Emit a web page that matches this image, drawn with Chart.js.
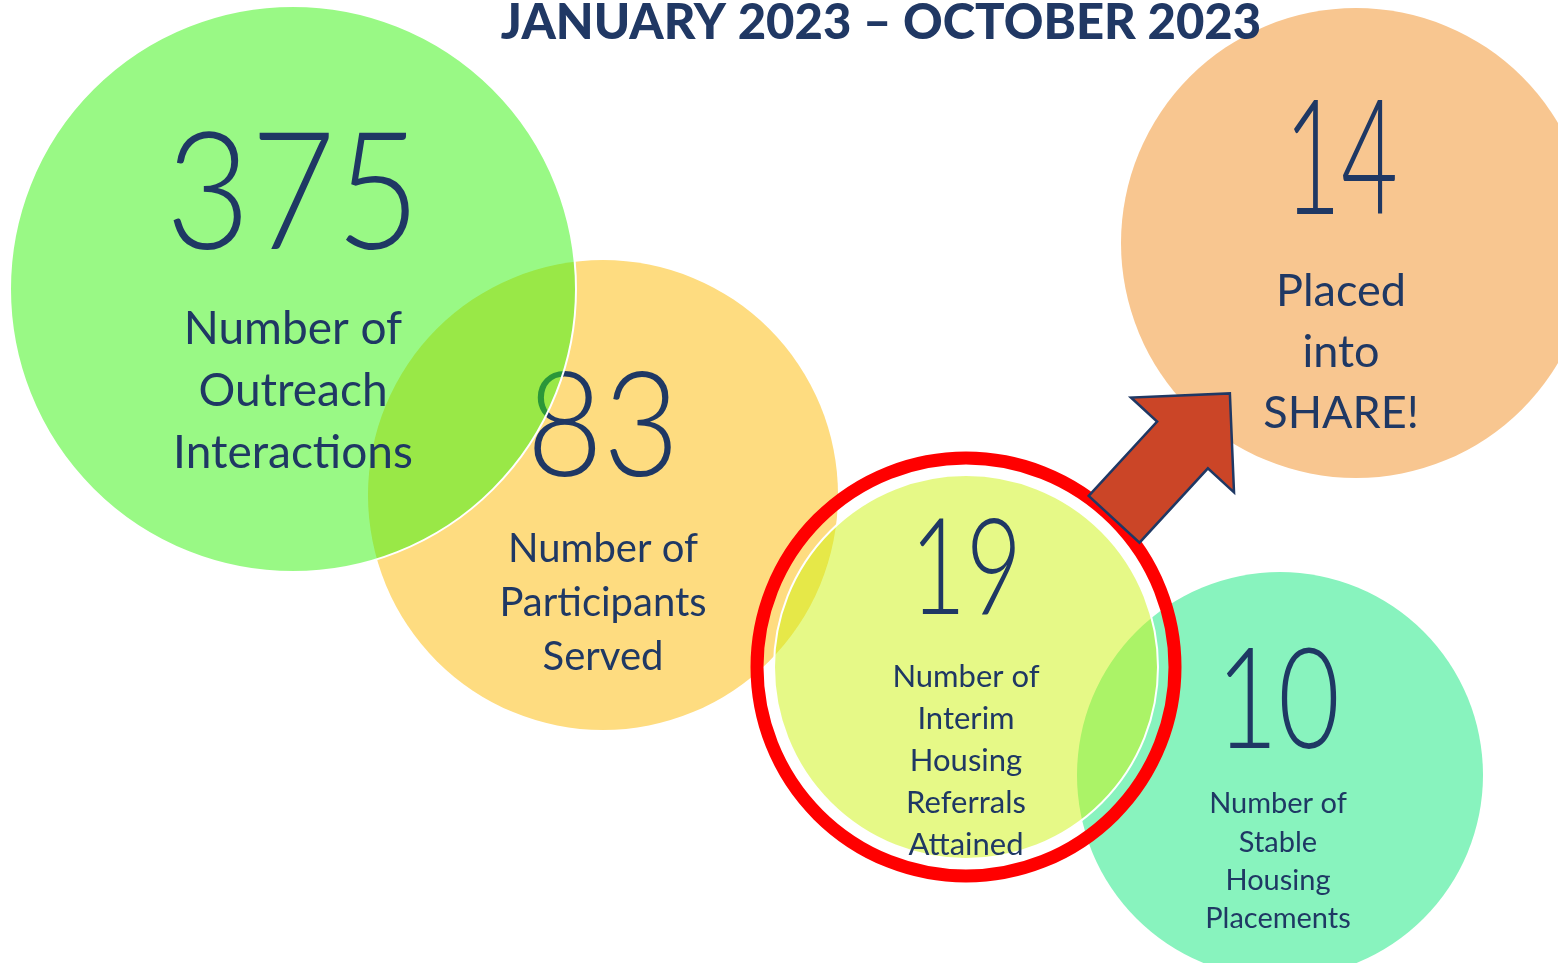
<!DOCTYPE html>
<html>
<head>
<meta charset="utf-8">
<title>Outreach results Jan - Oct 2023</title>
<script src="https://cdn.jsdelivr.net/npm/chart.js@4.4.0/dist/chart.umd.min.js"></script>
<style>
  html, body { margin: 0; padding: 0; background: #fff; overflow: hidden; }
  #chart { display: block; }
</style>
</head>
<body>
<canvas id="chart" width="1558" height="963"></canvas>
<script>
// data
const title = 'JANUARY 2023 \u2013 OCTOBER 2023';
const categories = ['Outreach Interactions', 'Participants Served', 'Interim Housing Referrals Attained', 'Stable Housing Placements', 'Placed into SHARE!'];
const values = [375, 83, 19, 10, 14];
const labelLines = [
  ['Number of', 'Outreach', 'Interactions'],
  ['Number of', 'Participants', 'Served'],
  ['Number of', 'Interim', 'Housing', 'Referrals', 'Attained'],
  ['Number of', 'Stable', 'Housing', 'Placements'],
  ['Placed', 'into', 'SHARE!']
];

// layout of the bubbles (scale units = pixels)
const bubbleX = [293, 603, 966, 1280, 1356];
const bubbleY = [289, 495, 667, 775, 243];
const bubbleR = [283, 235, 192, 203, 235];
const layer = [4, 5, 2, 3, 1]; // higher = drawn first
const colors = ['rgba(55,243,16,0.51)', '#FEDC80', 'rgba(205,243,15,0.5)', '#88F3BE', '#F8C690'];
const borders = ['#ffffff', '#FEDC80', '#ffffff', '#88F3BE', '#F8C690'];
const borderW = [2, 0, 2, 0, 0];

// text placement relative to bubble centre
const textDx = [0, 0, 0, -2, -15];
const numDy = [-98, -72, -101, -77, -86];
const numSize = [163, 147, 135, 140, 160];
const numMaxW = [255, 153, 112, 124, 114];
const lblDy = [39, 53, 9, 28, 47];
const lblGap = [62, 54, 42, 38.3, 61];
const lblSize = [46, 40, 31, 29, 45];

const navy = '#1F3864';
const highlightIdx = 2;  // red ring round the interim referrals
const arrowTo = 4;

const textPlugin = {
  id: 'bubbleText',
  afterDatasetDraw(chart, args) {
    const i = args.index;
    const ctx = chart.ctx;
    const pt = args.meta.data[0];
    const cx = pt.x + textDx[i];

    ctx.save();
    if (i === highlightIdx) {
      ctx.beginPath();
      ctx.arc(pt.x, pt.y, 209, 0, Math.PI * 2);
      ctx.strokeStyle = '#FF0000';
      ctx.lineWidth = 13;
      ctx.stroke();
    }
    ctx.fillStyle = navy;
    ctx.textAlign = 'center';
    ctx.textBaseline = 'alphabetic';
    ctx.font = '300 ' + numSize[i] + 'px Lato';
    ctx.fillText(String(values[i]), cx, pt.y + numDy[i] + numSize[i] * 0.358, numMaxW[i]);
    ctx.font = '400 ' + lblSize[i] + 'px Lato';
    labelLines[i].forEach((line, k) => {
      ctx.fillText(line, cx, pt.y + lblDy[i] + k * lblGap[i] + lblSize[i] * 0.358);
    });
    ctx.restore();
  },
  afterDatasetsDraw(chart) {
    const ctx = chart.ctx;
    const xs = chart.scales.x, ys = chart.scales.y;
    // arrow from the ring towards the SHARE bubble
    const ax = xs.getPixelForValue(bubbleX[highlightIdx]), ay = ys.getPixelForValue(bubbleY[highlightIdx]);
    const bx = xs.getPixelForValue(bubbleX[arrowTo]), by = ys.getPixelForValue(bubbleY[arrowTo]);
    const len = Math.hypot(bx - ax, by - ay);
    const ux = (bx - ax) / len, uy = (by - ay) / len;
    const px = -uy, py = ux;
    const start = 209, side = 9;
    const sx = ax + ux * start + px * side, sy = ay + uy * start + py * side;
    const shaft = 101, head = 70, sw = 34.5, hw = 70;
    const P = (a, b) => [sx + ux * a + px * b, sy + uy * a + py * b];
    const pts = [P(0, -sw), P(shaft, -sw), P(shaft, -hw), P(shaft + head, 0), P(shaft, hw), P(shaft, sw), P(0, sw)];
    ctx.save();
    ctx.beginPath();
    pts.forEach((p, k) => k ? ctx.lineTo(p[0], p[1]) : ctx.moveTo(p[0], p[1]));
    ctx.closePath();
    ctx.fillStyle = '#CB4527';
    ctx.fill();
    ctx.lineWidth = 2.5;
    ctx.lineJoin = 'miter';
    ctx.strokeStyle = navy;
    ctx.stroke();

    // title
    ctx.fillStyle = '#203864';
    ctx.font = '900 49px Lato';
    ctx.textAlign = 'center';
    ctx.textBaseline = 'alphabetic';
    ctx.fillText(title, 881, 39, 762);
    ctx.restore();
  }
};

new Chart(document.getElementById('chart'), {
  type: 'bubble',
  data: {
    datasets: values.map((v, i) => ({
      label: categories[i],
      data: [{ x: bubbleX[i], y: bubbleY[i], r: bubbleR[i], v: v }],
      backgroundColor: colors[i],
      borderColor: borders[i],
      borderWidth: borderW[i],
      hoverRadius: 0,
      order: layer[i],
      clip: false
    }))
  },
  options: {
    responsive: false,
    animation: false,
    events: [],
    layout: { padding: 0, autoPadding: false },
    plugins: {
      legend: { display: false },
      tooltip: { enabled: false },
      title: { display: false }
    },
    scales: {
      x: { type: 'linear', min: 0, max: 1558, display: false },
      y: { type: 'linear', min: 0, max: 963, reverse: true, display: false }
    }
  },
  plugins: [textPlugin]
});
</script>
</body>
</html>
